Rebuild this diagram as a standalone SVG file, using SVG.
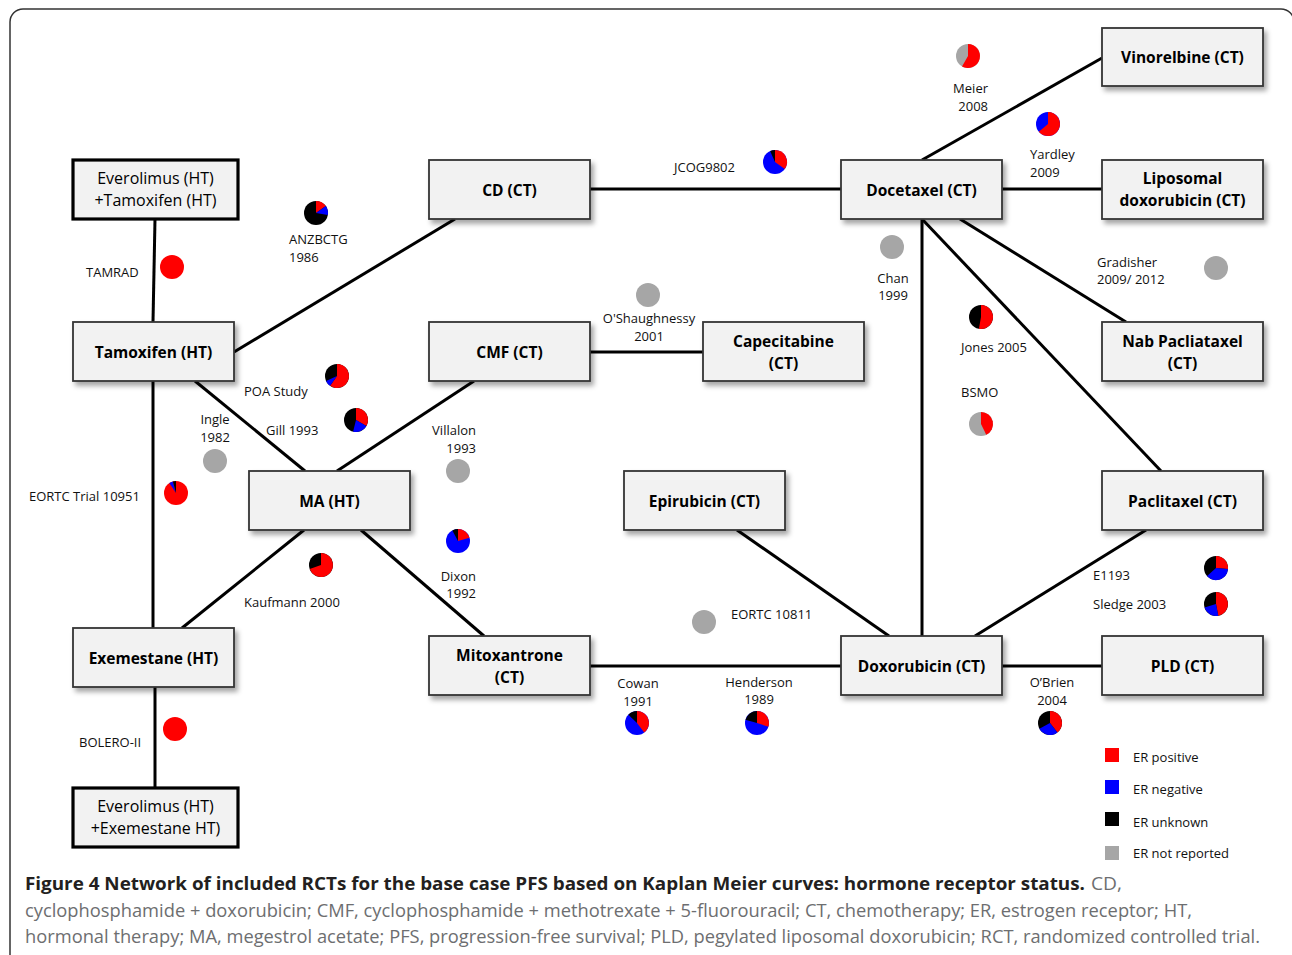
<svg xmlns="http://www.w3.org/2000/svg" width="1292" height="955" viewBox="0 0 1292 955">
<defs>
<filter id="sh" x="-10%" y="-10%" width="130%" height="140%">
<feDropShadow dx="3" dy="4" stdDeviation="2.5" flood-color="#000" flood-opacity="0.35"/>
</filter>
<style>
.box{fill:#f2f2f2;stroke:#333;stroke-width:1.8;filter:url(#sh)}
.tbox{fill:#f2f2f2;stroke:#000;stroke-width:3.2}
.nt{font-family:"Open Sans",sans-serif;font-size:15.5px;font-weight:bold;fill:#000;text-anchor:middle}
.nn{font-family:"Open Sans",sans-serif;font-size:16px;fill:#000;text-anchor:middle}
.lb{font-family:"Open Sans",sans-serif;font-size:13px;fill:#111}
.mid{text-anchor:middle}
.end{text-anchor:end}
.con line{stroke:#000;stroke-width:3;stroke-linecap:butt}
.r{fill:#ff0000}.b{fill:#0000ff}.k{fill:#000}.g{fill:#a6a6a6}
.cap{font-family:"Open Sans",sans-serif;font-size:18.5px;fill:#6d6e70}
.capb{font-family:"Open Sans",sans-serif;font-size:18.5px;font-weight:bold;fill:#231f20}
</style>
</defs>
<rect x="10" y="9" width="1284" height="980" rx="13" fill="#fff" stroke="#333" stroke-width="1.5"/>

<g id="connectors" class="con">
<line x1="155" y1="219" x2="153" y2="322"/>
<line x1="234" y1="352" x2="455" y2="219"/>
<line x1="590" y1="189" x2="841" y2="189"/>
<line x1="922" y1="160" x2="1102" y2="58"/>
<line x1="1002" y1="189" x2="1102" y2="189"/>
<line x1="922" y1="219" x2="922" y2="636"/>
<line x1="922" y1="219" x2="1161" y2="471"/>
<line x1="960" y1="219" x2="1126" y2="322"/>
<line x1="153" y1="381" x2="153" y2="628"/>
<line x1="195" y1="381" x2="305" y2="471"/>
<line x1="474" y1="381" x2="337" y2="471"/>
<line x1="590" y1="352" x2="703" y2="352"/>
<line x1="304" y1="530" x2="182" y2="628"/>
<line x1="361" y1="530" x2="484" y2="636"/>
<line x1="737" y1="530" x2="889" y2="636"/>
<line x1="1146" y1="530" x2="975" y2="636"/>
<line x1="590" y1="666" x2="841" y2="666"/>
<line x1="1002" y1="666" x2="1102" y2="666"/>
<line x1="155" y1="687" x2="155" y2="788"/>
</g>

<g id="n-evtam"><rect class="tbox" x="73" y="160" width="165" height="59"/><text class="nn" x="155.5" y="184">Everolimus (HT)</text><text class="nn" x="155.5" y="206">+Tamoxifen (HT)</text></g>
<g id="n-cd"><rect class="box" x="429" y="160" width="161" height="59"/><text class="nt" x="509.5" y="195.5">CD (CT)</text></g>
<g id="n-docetaxel"><rect class="box" x="841" y="160" width="161" height="59"/><text class="nt" x="921.5" y="195.5">Docetaxel (CT)</text></g>
<g id="n-vinorelbine"><rect class="box" x="1102" y="28" width="161" height="58"/><text class="nt" x="1182.5" y="63">Vinorelbine (CT)</text></g>
<g id="n-liposomal"><rect class="box" x="1102" y="160" width="161" height="59"/><text class="nt" x="1182.5" y="184">Liposomal</text><text class="nt" x="1182.5" y="206">doxorubicin (CT)</text></g>
<g id="n-tamoxifen"><rect class="box" x="73" y="322" width="161" height="59"/><text class="nt" x="153.5" y="357.5">Tamoxifen (HT)</text></g>
<g id="n-cmf"><rect class="box" x="429" y="322" width="161" height="59"/><text class="nt" x="509.5" y="357.5">CMF (CT)</text></g>
<g id="n-capecitabine"><rect class="box" x="703" y="322" width="161" height="59"/><text class="nt" x="783.5" y="346.5">Capecitabine</text><text class="nt" x="783.5" y="368.5">(CT)</text></g>
<g id="n-nab"><rect class="box" x="1102" y="322" width="161" height="59"/><text class="nt" x="1182.5" y="346.5">Nab Pacliataxel</text><text class="nt" x="1182.5" y="368.5">(CT)</text></g>
<g id="n-ma"><rect class="box" x="249" y="471" width="161" height="59"/><text class="nt" x="329.5" y="506.5">MA (HT)</text></g>
<g id="n-epirubicin"><rect class="box" x="624" y="471" width="161" height="59"/><text class="nt" x="704.5" y="506.5">Epirubicin (CT)</text></g>
<g id="n-paclitaxel"><rect class="box" x="1102" y="471" width="161" height="59"/><text class="nt" x="1182.5" y="506.5">Paclitaxel (CT)</text></g>
<g id="n-exemestane"><rect class="box" x="73" y="628" width="161" height="59"/><text class="nt" x="153.5" y="663.5">Exemestane (HT)</text></g>
<g id="n-mitoxantrone"><rect class="box" x="429" y="636" width="161" height="59"/><text class="nt" x="509.5" y="660.5">Mitoxantrone</text><text class="nt" x="509.5" y="682.5">(CT)</text></g>
<g id="n-doxorubicin"><rect class="box" x="841" y="636" width="161" height="59"/><text class="nt" x="921.5" y="671.5">Doxorubicin (CT)</text></g>
<g id="n-pld"><rect class="box" x="1102" y="636" width="161" height="59"/><text class="nt" x="1182.5" y="671.5">PLD (CT)</text></g>
<g id="n-evexe"><rect class="tbox" x="73" y="788" width="165" height="59"/><text class="nn" x="155.5" y="812">Everolimus (HT)</text><text class="nn" x="155.5" y="834">+Exemestane HT)</text></g>

<g id="labels" class="lb">
<text x="86" y="277">TAMRAD</text>
<text x="289" y="244">ANZBCTG</text><text x="289" y="262">1986</text>
<text x="674" y="172">JCOG9802</text>
<text class="end" x="988" y="93">Meier</text><text class="end" x="988" y="111">2008</text>
<text x="1030" y="159">Yardley</text><text x="1030" y="177">2009</text>
<text class="mid" x="893" y="283">Chan</text><text class="mid" x="893" y="300">1999</text>
<text x="1097" y="267">Gradisher</text><text x="1097" y="284">2009/ 2012</text>
<text class="mid" x="649" y="323">O'Shaughnessy</text><text class="mid" x="649" y="341">2001</text>
<text x="961" y="352">Jones 2005</text>
<text x="961" y="397">BSMO</text>
<text x="244" y="396">POA Study</text>
<text class="mid" x="215" y="424">Ingle</text><text class="mid" x="215" y="442">1982</text>
<text x="266" y="435">Gill 1993</text>
<text x="29" y="501">EORTC Trial 10951</text>
<text x="244" y="607">Kaufmann 2000</text>
<text class="end" x="476" y="435">Villalon</text><text class="end" x="476" y="453">1993</text>
<text class="end" x="476" y="581">Dixon</text><text class="end" x="476" y="598">1992</text>
<text x="731" y="619">EORTC 10811</text>
<text x="1093" y="580">E1193</text>
<text x="1093" y="609">Sledge 2003</text>
<text class="mid" x="638" y="688">Cowan</text><text class="mid" x="638" y="706">1991</text>
<text class="mid" x="759" y="687">Henderson</text><text class="mid" x="759" y="704">1989</text>
<text class="mid" x="1052" y="687">O’Brien</text><text class="mid" x="1052" y="705">2004</text>
<text x="79" y="747">BOLERO-II</text>
</g>

<g id="pies">
<circle class="r" cx="172" cy="267" r="12"/>
<circle class="r" cx="175" cy="729" r="12"/>
<circle class="g" cx="892" cy="247" r="12"/>
<circle class="g" cx="1216" cy="268" r="12"/>
<circle class="g" cx="648" cy="295" r="12"/>
<circle class="g" cx="215" cy="461" r="12"/>
<circle class="g" cx="458" cy="471" r="12"/>
<circle class="g" cx="704" cy="622" r="12"/>
<g transform="translate(316,213)"><circle class="k" r="12"/><path class="r" d="M0,0L0,-12A12,12 0 0 1 9.83,-6.88Z"/><path class="b" d="M0,0L9.83,-6.88A12,12 0 0 1 11.82,2.08Z"/></g>
<g transform="translate(775,162)"><circle class="b" r="12"/><path class="r" d="M0,0L0,-12A12,12 0 0 1 9.83,6.88Z"/><path class="k" d="M0,0L-4.88,-10.96A12,12 0 0 1 0,-12Z"/></g>
<g transform="translate(968,56)"><circle class="g" r="12"/><path class="r" d="M0,0L0,-12A12,12 0 1 1 -6,10.39Z"/></g>
<g transform="translate(1048,124)"><circle class="b" r="12"/><path class="r" d="M0,0L0,-12A12,12 0 1 1 -9.19,7.71Z"/></g>
<g transform="translate(981,317)"><circle class="k" r="12"/><path class="r" d="M0,0L0,-12A12,12 0 1 1 -2.08,11.82Z"/></g>
<g transform="translate(337,376)"><circle class="k" r="12"/><path class="r" d="M0,0L0,-12A12,12 0 1 1 -6.88,9.83Z"/><path class="b" d="M0,0L-6.88,9.83A12,12 0 0 1 -10.96,4.88Z"/></g>
<g transform="translate(356,420)"><circle class="k" r="12"/><path class="r" d="M0,0L0,-12A12,12 0 0 1 10.39,6Z"/><path class="b" d="M0,0L10.39,6A12,12 0 0 1 -2.9,11.64Z"/></g>
<g transform="translate(176,493)"><circle class="r" r="12"/><path class="b" d="M0,0L-6.71,-9.95A12,12 0 0 1 -3.11,-11.59Z"/><path class="k" d="M0,0L-3.11,-11.59A12,12 0 0 1 0,-12Z"/></g>
<g transform="translate(321,565)"><circle class="k" r="12"/><path class="r" d="M0,0L0,-12A12,12 0 1 1 -11.28,4.1Z"/></g>
<g transform="translate(458,541)"><circle class="b" r="12"/><path class="r" d="M0,0L0,-12A12,12 0 0 1 11.54,-3.31Z"/><path class="k" d="M0,0L-5.63,-10.6A12,12 0 0 1 0,-12Z"/></g>
<g transform="translate(981,424)"><circle class="g" r="12"/><path class="r" d="M0,0L0,-12A12,12 0 0 1 5.26,10.79Z"/></g>
<g transform="translate(1216,568)"><circle class="k" r="12"/><path class="r" d="M0,0L0,-12A12,12 0 0 1 11.95,1.05Z"/><path class="b" d="M0,0L11.95,1.05A12,12 0 0 1 -8.92,8.03Z"/></g>
<g transform="translate(1216,604)"><circle class="k" r="12"/><path class="r" d="M0,0L0,-12A12,12 0 0 1 2.29,11.78Z"/><path class="b" d="M0,0L2.29,11.78A12,12 0 0 1 -11.48,3.51Z"/></g>
<g transform="translate(637,723)"><circle class="b" r="12"/><path class="r" d="M0,0L0,-12A12,12 0 0 1 7.22,9.58Z"/><path class="k" d="M0,0L-8.63,-8.34A12,12 0 0 1 0,-12Z"/></g>
<g transform="translate(757,723)"><circle class="b" r="12"/><path class="r" d="M0,0L0,-12A12,12 0 0 1 11.41,3.71Z"/><path class="k" d="M0,0L-11.54,-3.31A12,12 0 0 1 0,-12Z"/></g>
<g transform="translate(1050,723)"><circle class="k" r="12"/><path class="r" d="M0,0L0,-12A12,12 0 0 1 7.39,9.46Z"/><path class="b" d="M0,0L7.39,9.46A12,12 0 0 1 -10.6,5.63Z"/></g>
</g>

<g id="legend" class="lb">
<rect class="r" x="1105" y="748" width="14" height="14"/><text x="1133" y="762">ER positive</text>
<rect class="b" x="1105" y="780" width="14" height="14"/><text x="1133" y="794">ER negative</text>
<rect class="k" x="1105" y="812" width="14" height="14"/><text x="1133" y="827">ER unknown</text>
<rect class="g" x="1105" y="846" width="14" height="14"/><text x="1133" y="858">ER not reported</text>
</g>

<g id="caption">
<text class="capb" x="25" y="890" textLength="1060" lengthAdjust="spacingAndGlyphs">Figure 4 Network of included RCTs for the base case PFS based on Kaplan Meier curves: hormone receptor status.</text>
<text class="cap" x="1091" y="890" textLength="31" lengthAdjust="spacingAndGlyphs">CD,</text>
<text class="cap" x="25" y="917" textLength="1167" lengthAdjust="spacingAndGlyphs">cyclophosphamide + doxorubicin; CMF, cyclophosphamide + methotrexate + 5-fluorouracil; CT, chemotherapy; ER, estrogen receptor; HT,</text>
<text class="cap" x="25" y="943" textLength="1235" lengthAdjust="spacingAndGlyphs">hormonal therapy; MA, megestrol acetate; PFS, progression-free survival; PLD, pegylated liposomal doxorubicin; RCT, randomized controlled trial.</text>
</g>
</svg>
